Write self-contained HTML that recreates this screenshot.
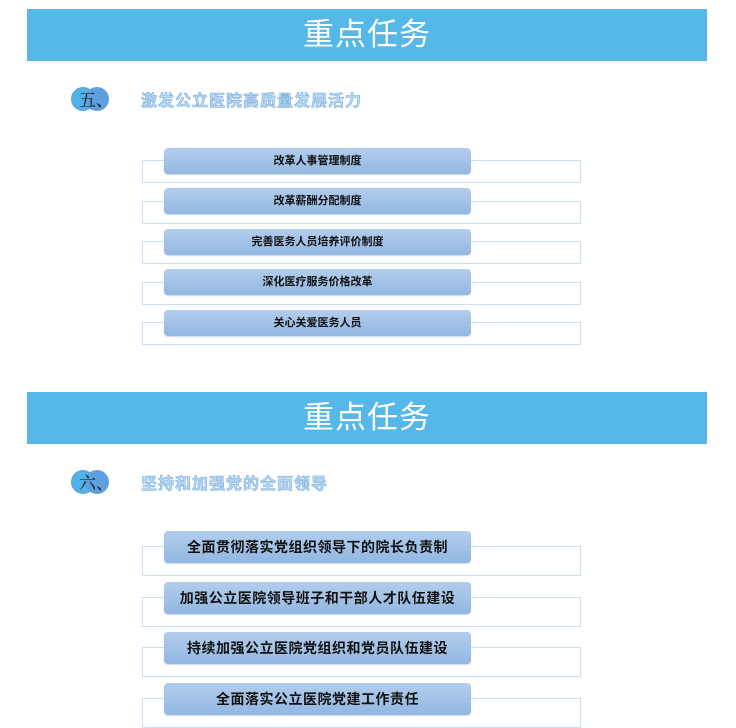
<!DOCTYPE html>
<html><head><meta charset="utf-8"><style>
body{margin:0;width:736px;height:725px;background:#fff;position:relative;overflow:hidden;font-family:"Liberation Sans","Noto Sans CJK SC",sans-serif}
.hd{position:absolute;left:27px;width:680px;height:52px;background:#56b8e8;color:#fff;font-size:31px;text-align:center;line-height:52px;letter-spacing:1px}
.ic{position:absolute;width:40px;height:24px}
.ic i{position:absolute;top:0;width:24px;height:24px;border-radius:50%;border:1px solid #6a9fd0;box-sizing:border-box}
.ic span{position:absolute;left:8px;top:0;font-size:17px;line-height:24px;color:#111;font-family:"Noto Serif CJK SC",serif}
.tt{position:absolute;left:141px;font-size:16px;font-weight:bold;color:#bcd8f2;-webkit-text-stroke:0.6px #7fb0de;letter-spacing:1px}
.bx{position:absolute;left:142px;width:439px;border:1px solid #c9def1;box-sizing:border-box}
.bt{position:absolute;left:164px;width:307px;border-radius:4px;background:linear-gradient(#b3cdec,#93b7e1);text-align:center;color:#111;box-shadow:0 1px 1px #c8d8ea}
.s1{height:26px;line-height:26px;font-size:11px;font-weight:bold}
.s2{height:32px;line-height:32px;font-size:14px;font-weight:bold;letter-spacing:0.5px}
</style></head><body>
<div class="hd" style="top:9px">重点任务</div>
<div class="ic" style="left:71px;top:87px"><i style="left:0;background:#4fb3ea"></i><i style="left:14px;background:#5e9fe0"></i><span>五、</span></div>
<div class="tt" style="top:87px">激发公立医院高质量发展活力</div>

<div class="bx" style="top:160px;height:23px"></div><div class="bt s1" style="top:148px">改革人事管理制度</div>
<div class="bx" style="top:201px;height:23px"></div><div class="bt s1" style="top:188px">改革薪酬分配制度</div>
<div class="bx" style="top:241px;height:23px"></div><div class="bt s1" style="top:229px">完善医务人员培养评价制度</div>
<div class="bx" style="top:282px;height:23px"></div><div class="bt s1" style="top:269px">深化医疗服务价格改革</div>
<div class="bx" style="top:322px;height:23px"></div><div class="bt s1" style="top:310px">关心关爱医务人员</div>

<div class="hd" style="top:392px">重点任务</div>
<div class="ic" style="left:71px;top:470px"><i style="left:0;background:#4fb3ea"></i><i style="left:14px;background:#5e9fe0"></i><span>六、</span></div>
<div class="tt" style="top:470px">坚持和加强党的全面领导</div>

<div class="bx" style="top:546px;height:30px"></div><div class="bt s2" style="top:531px">全面贯彻落实党组织领导下的院长负责制</div>
<div class="bx" style="top:597px;height:30px"></div><div class="bt s2" style="top:582px">加强公立医院领导班子和干部人才队伍建设</div>
<div class="bx" style="top:647px;height:30px"></div><div class="bt s2" style="top:632px">持续加强公立医院党组织和党员队伍建设</div>
<div class="bx" style="top:698px;height:30px"></div><div class="bt s2" style="top:683px">全面落实公立医院党建工作责任</div>
</body></html>
